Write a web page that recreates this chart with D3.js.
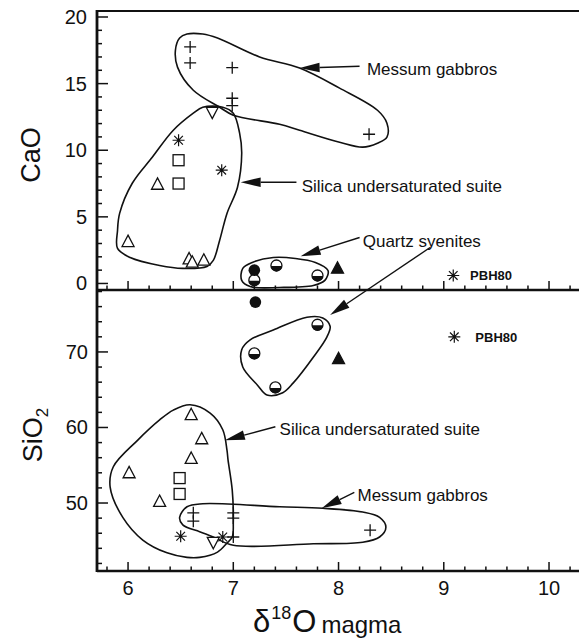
<!DOCTYPE html>
<html>
<head>
<meta charset="utf-8">
<script src="https://cdn.jsdelivr.net/npm/d3@7"></script>
<style>
  html, body { margin: 0; padding: 0; background: #fff; }
  svg { display: block; font-family: "Liberation Sans", Arial, Helvetica, sans-serif; }
</style>
</head>
<body>
<svg id="chart" width="579" height="639"></svg>
<script>
// ---- data: δ18O(magma) against CaO (upper panel) and SiO2 (lower panel) ----
// each entry: [δ18O, oxide wt%]
const gabbroCaO      = [[6.59, 17.75], [6.59, 16.55], [6.99, 16.2], [6.99, 13.9], [6.99, 13.35], [8.29, 11.2]];
const triangleCaO    = [[6.28, 7.5], [6.0, 3.2], [6.58, 1.9], [6.61, 1.65], [6.72, 1.8]];
const squareCaO      = [[6.48, 9.25], [6.48, 7.5]];
const asteriskCaO    = [[6.48, 10.75], [6.89, 8.5], [9.09, 0.6]];
const invTriangleCaO = [[6.8, 12.8]];
const halfCircleCaO  = [[7.41, 1.35], [7.8, 0.6], [7.2, 0.25]];
const dotCaO         = [[7.2, 1.0]];
const solidTriCaO    = [[7.99, 1.2]];

const gabbroSiO2      = [[6.62, 48.7], [6.62, 47.6], [7.0, 48.7], [7.0, 48.0], [7.0, 45.5], [8.3, 46.4]];
const triangleSiO2    = [[6.6, 61.8], [6.7, 58.6], [6.6, 56.0], [6.01, 54.1], [6.3, 50.3]];
const squareSiO2      = [[6.49, 53.3], [6.49, 51.2]];
const asteriskSiO2    = [[6.5, 45.6], [6.9, 45.5], [9.1, 72.0]];
const invTriangleSiO2 = [[6.81, 44.7]];
const halfCircleSiO2  = [[7.8, 73.6], [7.2, 69.8], [7.4, 65.3]];
const dotSiO2         = [[7.21, 76.6]];
const solidTriSiO2    = [[8.0, 69.2]];

// field outlines (closed curves) in data units
const gabbroFieldCaO = [[6.56,18.72],[6.71,18.72],[6.85,18.42],[7.25,17.0],[7.63,16.17],[8.01,14.66],[8.37,13.0],[8.46,12.03],
  [8.46,10.98],[8.37,10.53],[8.23,10.23],[8.01,10.6],[7.63,11.5],[7.44,11.95],[7.0,12.63],[6.87,13.23],[6.62,14.5],
  [6.47,16.24],[6.45,17.5],[6.49,18.42]];
const undersatFieldCaO = [[6.71,13.23],[6.9,13.23],[7.0,12.78],[7.06,11.28],[7.08,9.77],[7.04,7.22],[6.94,5.26],[6.87,3.23],
  [6.81,1.73],[6.75,1.28],[6.52,1.13],[6.3,1.35],[6.02,1.95],[5.9,2.63],[5.9,3.98],[5.92,5.26],[6.04,7.52],[6.23,9.47],
  [6.43,11.5],[6.62,12.78]];
const quartzFieldCaO = [[7.09,1.13],[7.18,1.58],[7.38,1.95],[7.59,1.88],[7.78,1.58],[7.9,0.98],[7.87,0.23],[7.76,-0.15],
  [7.44,-0.3],[7.16,-0.23],[7.08,0.23]];
const quartzFieldSiO2 = [[7.85,74.5],[7.92,73.4],[7.89,72.0],[7.76,69.3],[7.57,65.9],[7.47,64.6],[7.32,64.3],[7.23,65.6],
  [7.09,68.0],[7.08,70.3],[7.16,71.6],[7.38,72.9],[7.7,74.6]];
const undersatFieldSiO2 = [[6.59,63.0],[6.78,61.9],[6.9,59.7],[6.94,57.0],[6.95,55.7],[6.99,51.7],[7.0,47.4],[6.99,45.5],
  [6.94,44.7],[6.85,43.5],[6.68,42.8],[6.56,42.8],[6.37,43.4],[6.14,45.1],[5.95,48.1],[5.83,52.1],[5.86,54.8],
  [6.09,58.3],[6.3,61.0],[6.43,62.3]];
const gabbroFieldSiO2 = [[6.71,49.9],[7.44,49.5],[7.85,49.3],[8.23,48.8],[8.39,48.1],[8.45,46.8],[8.39,45.5],[8.23,44.8],
  [7.76,44.6],[7.0,44.4],[6.81,45.5],[6.68,46.2],[6.52,47.1],[6.49,48.1],[6.56,49.5]];

// tick values
const xMajor = [6, 7, 8, 9, 10];
const caoMajor = [0, 5, 10, 15, 20];
const sio2Major = [50, 60, 70];

(function () {
// ---- layout ----
const svg = d3.select("#chart");
const L = 97, R = 580.6, T = 11, M = 290, B = 571;

const x = d3.scaleLinear().domain([5.705, 10.3]).range([L, R]);
const yCaO = d3.scaleLinear().domain([-0.49, 20.45]).range([M, T]);
const ySiO2 = d3.scaleLinear().domain([41.0, 78.2]).range([B, M]);

const ink = "#111";

// ---- field outlines ----
const outline = (ys) => d3.line().x(d => x(d[0])).y(d => ys(d[1])).curve(d3.curveCatmullRomClosed.alpha(0.5));
const fields = svg.append("g").attr("fill", "none").attr("stroke", ink).attr("stroke-width", 1.6);
[[gabbroFieldCaO, yCaO], [undersatFieldCaO, yCaO], [quartzFieldCaO, yCaO],
 [quartzFieldSiO2, ySiO2], [undersatFieldSiO2, ySiO2], [gabbroFieldSiO2, ySiO2]]
  .forEach(([pts, ys]) => fields.append("path").attr("d", outline(ys)(pts)));

// ---- axes frame ----
const frame = svg.append("g").attr("stroke", ink).attr("fill", "none");
frame.append("line").attr("x1", L).attr("x2", 579).attr("y1", T).attr("y2", T).attr("stroke-width", 2);
frame.append("line").attr("x1", L).attr("x2", 579).attr("y1", M).attr("y2", M).attr("stroke-width", 2.4);
frame.append("line").attr("x1", L).attr("x2", 579).attr("y1", B).attr("y2", B).attr("stroke-width", 2.4);
frame.append("line").attr("x1", L).attr("x2", L).attr("y1", T - 1).attr("y2", B + 1).attr("stroke-width", 2.8);

// x ticks (inward) on the panel divider and the bottom edge
const xMinor = d3.range(5.8, 10.31, 0.2).map(v => +v.toFixed(1));
[M, B].forEach(yb => {
  const g = svg.append("g").attr("stroke", ink).attr("stroke-width", 1.5);
  g.selectAll("line").data(xMinor).join("line")
    .attr("x1", d => x(d)).attr("x2", d => x(d))
    .attr("y1", yb).attr("y2", d => yb - (xMajor.includes(d) ? 9 : 4.5));
});

// y ticks (inward)
function yTicks(ys, minor, major) {
  const g = svg.append("g").attr("stroke", ink).attr("stroke-width", 1.5);
  g.selectAll("line").data(minor).join("line")
    .attr("x1", L).attr("x2", d => L + (major.includes(d) ? 11 : 5))
    .attr("y1", d => ys(d)).attr("y2", d => ys(d));
}
yTicks(yCaO, d3.range(0, 21, 1), caoMajor);
yTicks(ySiO2, d3.range(42, 79, 2), sio2Major);

// tick labels
const tickFont = 20;
svg.append("g").selectAll("text").data(xMajor).join("text")
  .attr("x", d => x(d)).attr("y", 595).attr("text-anchor", "middle")
  .attr("font-size", tickFont).attr("fill", ink).text(d => d);
svg.append("g").selectAll("text").data(caoMajor).join("text")
  .attr("x", 87).attr("y", d => yCaO(d) + 7).attr("text-anchor", "end")
  .attr("font-size", tickFont).attr("fill", ink).text(d => d);
svg.append("g").selectAll("text").data(sio2Major).join("text")
  .attr("x", 88).attr("y", d => ySiO2(d) + 7).attr("text-anchor", "end")
  .attr("font-size", tickFont).attr("fill", ink).text(d => d);

// axis titles
svg.append("text").attr("transform", "translate(40,155) rotate(-90)")
  .attr("text-anchor", "middle").attr("font-size", 27).attr("fill", ink).text("CaO");
const sio = svg.append("text").attr("transform", "translate(42,435) rotate(-90)")
  .attr("text-anchor", "middle").attr("font-size", 27).attr("fill", ink);
sio.append("tspan").text("SiO");
sio.append("tspan").attr("font-size", 17).attr("dy", 6).text("2");

const xt = svg.append("text").attr("x", 253).attr("y", 632).attr("text-anchor", "start")
  .attr("font-size", 31).attr("fill", ink);
xt.append("tspan").text("\u03B4");
xt.append("tspan").attr("font-size", 18).attr("dy", -13).attr("dx", 1).text("18");
xt.append("tspan").attr("dy", 13).attr("dx", 1).text("O");
xt.append("tspan").attr("font-size", 24).attr("dy", 1).attr("dx", 5).text("magma");

// ---- markers ----
const S = 6; // half-size of a symbol
function plus(g, px, py) {
  g.append("path").attr("d", `M${px - S},${py}H${px + S}M${px},${py - S}V${py + S}`)
    .attr("stroke", ink).attr("stroke-width", 1.3).attr("fill", "none");
}
function asterisk(g, px, py) {
  const d = S * 0.72;
  g.append("path").attr("d", `M${px - S},${py}H${px + S}M${px},${py - S}V${py + S}` +
    `M${px - d},${py - d}L${px + d},${py + d}M${px - d},${py + d}L${px + d},${py - d}`)
    .attr("stroke", ink).attr("stroke-width", 1.2).attr("fill", "none");
}
function triangle(g, px, py, filled, inverted) {
  const h = S * 0.95, w = S;
  const s = inverted ? -1 : 1;
  g.append("path").attr("d", `M${px},${py - s * h}L${px + w},${py + s * h}L${px - w},${py + s * h}Z`)
    .attr("stroke", ink).attr("stroke-width", 1.3).attr("fill", filled ? ink : "#fff");
}
function square(g, px, py) {
  g.append("rect").attr("x", px - 5.5).attr("y", py - 5.5).attr("width", 11).attr("height", 11)
    .attr("stroke", ink).attr("stroke-width", 1.3).attr("fill", "#fff");
}
function halfCircle(g, px, py) {
  const r = 5.5;
  g.append("circle").attr("cx", px).attr("cy", py).attr("r", r).attr("fill", "#fff")
    .attr("stroke", ink).attr("stroke-width", 1.3);
  g.append("path").attr("d", `M${px - r},${py + 0.5}A${r},${r} 0 0 0 ${px + r},${py + 0.5}Z`).attr("fill", ink);
}
function dot(g, px, py) {
  g.append("circle").attr("cx", px).attr("cy", py).attr("r", 5.8).attr("fill", ink);
}

const marks = svg.append("g");
const draw = (arr, ys, fn) => arr.forEach(d => fn(marks, x(d[0]), ys(d[1])));
draw(gabbroCaO, yCaO, plus);
draw(triangleCaO, yCaO, (g, a, b) => triangle(g, a, b, false, false));
draw(squareCaO, yCaO, square);
draw(asteriskCaO, yCaO, asterisk);
draw(invTriangleCaO, yCaO, (g, a, b) => triangle(g, a, b, false, true));
draw(halfCircleCaO, yCaO, halfCircle);
draw(dotCaO, yCaO, dot);
draw(solidTriCaO, yCaO, (g, a, b) => triangle(g, a, b, true, false));

draw(gabbroSiO2, ySiO2, plus);
draw(triangleSiO2, ySiO2, (g, a, b) => triangle(g, a, b, false, false));
draw(squareSiO2, ySiO2, square);
draw(asteriskSiO2, ySiO2, asterisk);
draw(invTriangleSiO2, ySiO2, (g, a, b) => triangle(g, a, b, false, true));
draw(halfCircleSiO2, ySiO2, halfCircle);
draw(dotSiO2, ySiO2, dot);
draw(solidTriSiO2, ySiO2, (g, a, b) => triangle(g, a, b, true, false));

// ---- field labels with arrows (positions in data units) ----
const labelFont = 17;
const labels = [
  { text: "Messum gabbros", ys: yCaO, at: [8.27, 16.1], from: [8.2, 16.3], to: [7.63, 16.17] },
  { text: "Silica undersaturated suite", ys: yCaO, at: [7.65, 7.3], from: [7.6, 7.6], to: [7.07, 7.6] },
  { text: "Quartz syenites", ys: yCaO, at: [8.23, 3.2], from: [8.2, 3.45], to: [7.64, 2.05] },
  { text: "Silica undersaturated suite", ys: ySiO2, at: [7.44, 59.8], from: [7.4, 60.1], to: [6.92, 58.3] },
  { text: "Messum gabbros", ys: ySiO2, at: [8.18, 51.0], from: [8.15, 51.4], to: [7.84, 49.3] }
];
const ann = svg.append("g");
function arrow(p0, p1) {
  const [x0, y0] = p0, [x1, y1] = p1;
  const ang = Math.atan2(y1 - y0, x1 - x0);
  const len = 20, half = 4.8;
  const bx = x1 - len * Math.cos(ang), by = y1 - len * Math.sin(ang);
  ann.append("line").attr("x1", x0).attr("y1", y0).attr("x2", bx).attr("y2", by)
    .attr("stroke", ink).attr("stroke-width", 1.4);
  ann.append("path").attr("d",
    `M${x1},${y1}L${bx + half * Math.sin(ang)},${by - half * Math.cos(ang)}L${bx - half * Math.sin(ang)},${by + half * Math.cos(ang)}Z`)
    .attr("fill", ink);
}
labels.forEach(l => {
  ann.append("text").attr("x", x(l.at[0])).attr("y", l.ys(l.at[1]) + 6)
    .attr("font-size", labelFont).attr("fill", ink).text(l.text);
  arrow([x(l.from[0]), l.ys(l.from[1])], [x(l.to[0]), l.ys(l.to[1])]);
});
// second arrow from the quartz syenite label down to the lower field
arrow([x(8.87), yCaO(2.7)], [x(7.92), ySiO2(74.9)]);

// sample label
ann.append("text").attr("x", x(9.25)).attr("y", yCaO(0.6) + 5).attr("font-size", 13)
  .attr("font-weight", "bold").attr("fill", ink).text("PBH80");
ann.append("text").attr("x", x(9.3)).attr("y", ySiO2(72.0) + 5).attr("font-size", 13)
  .attr("font-weight", "bold").attr("fill", ink).text("PBH80");
})();
</script>
</body>
</html>
